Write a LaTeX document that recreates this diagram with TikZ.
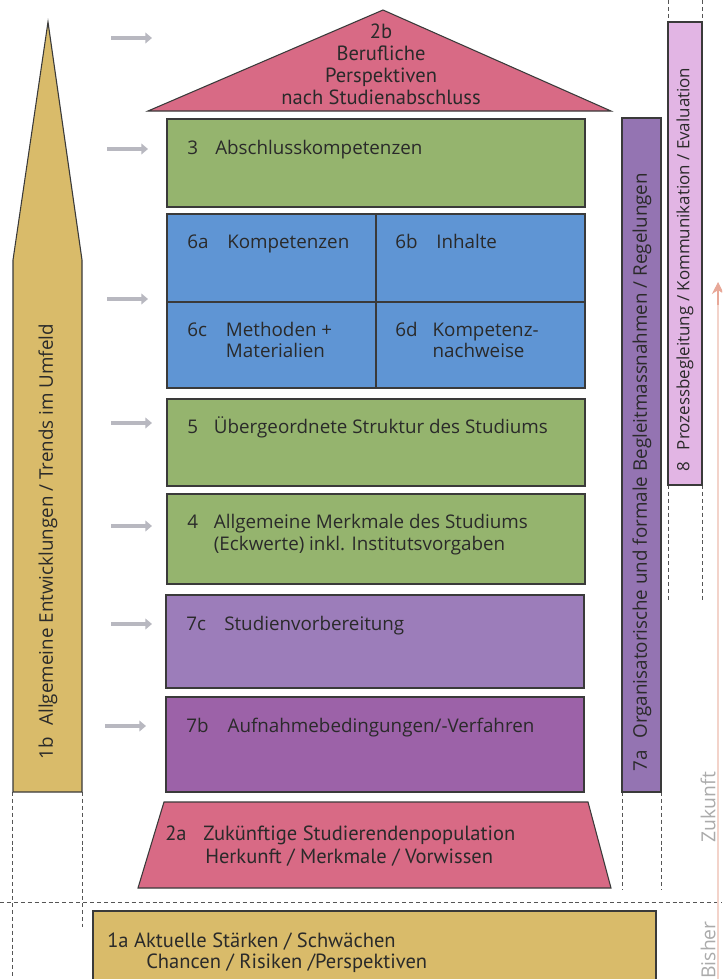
\documentclass[tikz,border=0pt]{standalone}
\usepackage{fontspec}
\setmainfont{Open Sans}
\newfontfamily\narrowfont{PT Sans}
\usetikzlibrary{arrows.meta}
\definecolor{bordercol}{HTML}{3A3A3A}
\definecolor{txt}{HTML}{2A2A2A}
\definecolor{gold}{HTML}{D9BB6A}
\definecolor{rose}{HTML}{D86A85}
\definecolor{grn}{HTML}{95B46E}
\definecolor{blu}{HTML}{5F95D4}
\definecolor{pur}{HTML}{9C7DBA}
\definecolor{mag}{HTML}{9C62A8}
\definecolor{pur7a}{HTML}{9474B2}
\definecolor{lila}{HTML}{E2B5E4}
\definecolor{arrgray}{HTML}{B8B8C0}
\definecolor{dashcol}{HTML}{555555}
\definecolor{soft}{HTML}{ABABAB}
\definecolor{salmon}{HTML}{E8A898}
\definecolor{salmonlight}{HTML}{F3D3CA}
\tikzset{
  box/.style={draw=bordercol, line width=0.8pt, inner sep=0pt, rectangle},
  lbl/.style={text=txt, inner sep=0pt, anchor=base west, align=left,
    font=\fontsize{14.1}{16}\selectfont},
  nlbl/.style={text=txt, inner sep=0pt, font=\narrowfont\fontsize{15.4}{16.5}\selectfont},
  vlbl/.style={text=txt, inner sep=0pt, rotate=90, anchor=west,
    font=\fontsize{14.1}{16}\selectfont},
  gray arrow/.style={draw=arrgray, line width=3.6pt,
    -{Triangle[length=5pt,width=8pt]}},
  dashline/.style={draw=dashcol, line width=0.6pt, dash pattern=on 3pt off 2.2pt},
  side/.style={text=soft, inner sep=0pt, rotate=90,
    font=\fontsize{14.5}{16}\selectfont}
}
\newcommand{\nb}[2]{\makebox[#1pt][l]{#2}}
\begin{document}
\begin{tikzpicture}[x=0.75pt,y=-0.75pt]
\useasboundingbox (0,0) rectangle (722,979);
\clip (0,0) rectangle (722,979);
\fill[white] (0,0) rectangle (722,979);

% dashed guide lines
\draw[dashline] (0,902) -- (722,902);
\draw[dashline] (12,792) -- (12,979);
\draw[dashline] (82,792) -- (82,927);
\draw[dashline] (622,792) -- (622,890);
\draw[dashline] (661,792) -- (661,890);
\draw[dashline] (668,0) -- (668,22);
\draw[dashline] (702,0) -- (702,22);
\draw[dashline] (668,485) -- (668,600);
\draw[dashline] (702,485) -- (702,600);

% faint arrow at right edge
\coordinate (ra0) at (718,979);
\coordinate (ra1) at (718,282);
\draw[salmonlight, line width=0.8pt] (ra0) -- (718,300);
\draw[salmon, line width=0.8pt, -{Stealth[length=9pt,width=9pt]}] (718,305) -- (ra1);

% 1b spike
\draw[fill=gold, draw=bordercol, line width=0.8pt]
  (13,792) -- (13,260) -- (48,22) -- (82,260) -- (82,792) -- cycle;
\node[vlbl] (t1b) at (48,760) {1b\hspace{9pt}Allgemeine Entwicklungen / Trends im Umfeld};

% 2b triangle
\draw[fill=rose, draw=bordercol, line width=0.8pt]
  (148,111) -- (383,10) -- (611,111) -- cycle;
\node[nlbl, align=center, anchor=base] (t2b) at (381,104)
  {2b\\Berufliche\\Perspektiven\\nach Studienabschluss};

% main boxes
\node[box, fill=grn, minimum width=313.5pt, minimum height=66pt] (b3) at (376,163) {};
\node[box, fill=blu, minimum width=156.75pt, minimum height=66pt] (b6a) at (271.5,258) {};
\node[box, fill=blu, minimum width=156.75pt, minimum height=66pt] (b6b) at (480.5,258) {};
\node[box, fill=blu, minimum width=156.75pt, minimum height=64.5pt] (b6c) at (271.5,345) {};
\node[box, fill=blu, minimum width=156.75pt, minimum height=64.5pt] (b6d) at (480.5,345) {};
\node[box, fill=grn, minimum width=313.5pt, minimum height=65.25pt] (b5) at (376,442.5) {};
\node[box, fill=grn, minimum width=313.5pt, minimum height=67.5pt] (b4) at (376,539) {};
\node[box, fill=pur, minimum width=313.5pt, minimum height=69.75pt] (b7c) at (375,641.5) {};
\node[box, fill=mag, minimum width=313.5pt, minimum height=71.25pt] (b7b) at (375,744.5) {};

\node[lbl] (t3) at (187,154) {\nb{21}{3}Abschlusskompetenzen};
\node[lbl] (t6a) at (187,248) {\nb{30}{6a}Kompetenzen};
\node[lbl] (t6b) at (395,248) {\nb{30.75}{6b}Inhalte};
\node[lbl, font=\fontsize{14.1}{15.5}\selectfont] (t6c) at (187,357) {\nb{29}{6c}Methoden +\\\nb{29}{}Materialien};
\node[lbl, font=\fontsize{14.1}{15.5}\selectfont] (t6d) at (395,357) {\nb{28}{6d}Kompetenz-\\\nb{28}{}nachweise};
\node[lbl] (t5) at (187,433) {\nb{20}{5}Übergeordnete Struktur des Studiums};
\node[lbl, font=\fontsize{14.1}{16.5}\selectfont] (t4) at (187,550) {\nb{20}{4}Allgemeine Merkmale des Studiums\\\nb{20}{}(Eckwerte) inkl. Institutsvorgaben};
\node[lbl] (t7c) at (186,630) {\nb{28.5}{7c}Studienvorbereitung};
\node[lbl] (t7b) at (186,732) {\nb{31}{7b}Aufnahmebedingungen/-Verfahren};

% 7a and 8 columns
\node[box, fill=pur7a, minimum width=29.25pt, minimum height=505.5pt] (b7a) at (641.5,455) {};
\node[vlbl] (t7a) at (642,772) {7a\hspace{9pt}Organisatorische und formale Begleitmassnahmen / Regelungen};
\node[box, fill=lila, minimum width=25.5pt, minimum height=347.25pt] (b8) at (685,253.5) {};
\node[vlbl, font=\fontsize{12.7}{14}\selectfont] (t8) at (685,472) {8\hspace{9pt}Prozessbegleitung / Kommunikation / Evaluation};

% 2a trapezoid
\draw[fill=rose, draw=bordercol, line width=0.8pt]
  (164,802) -- (588,802) -- (611,888) -- (138,888) -- cycle;
\node[nlbl, anchor=base west] (t2a1) at (165,840) {2a};
\node[nlbl, anchor=base west] (t2a2) at (203,840) {Zukünftige Studierendenpopulation};
\node[nlbl, anchor=base west] (t2a3) at (205,863) {Herkunft / Merkmale / Vorwissen};

% 1a box
\node[box, fill=gold, minimum width=422.25pt, minimum height=66.75pt] (b1a) at (374.5,955.5) {};
\node[nlbl, anchor=base west] (t1a1) at (107,947) {1a Aktuelle Stärken / Schwächen};
\node[nlbl, anchor=base west] (t1a2) at (146,968) {Chancen / Risiken /Perspektiven};

% side labels
\node[side] (tz) at (708,807) {Zukunft};
\node[side] (tbi) at (708,950) {Bisher};

% gray arrows
\coordinate (a1s) at (111,38);  \coordinate (a1e) at (152,38);
\coordinate (a2s) at (107,149); \coordinate (a2e) at (148,149);
\coordinate (a3s) at (107,299); \coordinate (a3e) at (148,299);
\coordinate (a4s) at (111,423); \coordinate (a4e) at (152,423);
\coordinate (a5s) at (111,526); \coordinate (a5e) at (152,526);
\coordinate (a6s) at (111,624); \coordinate (a6e) at (152,624);
\coordinate (a7s) at (105,726); \coordinate (a7e) at (146,726);
\foreach \i in {1,...,7} \draw[gray arrow] (a\i s) -- (a\i e);
\end{tikzpicture}
\end{document}
